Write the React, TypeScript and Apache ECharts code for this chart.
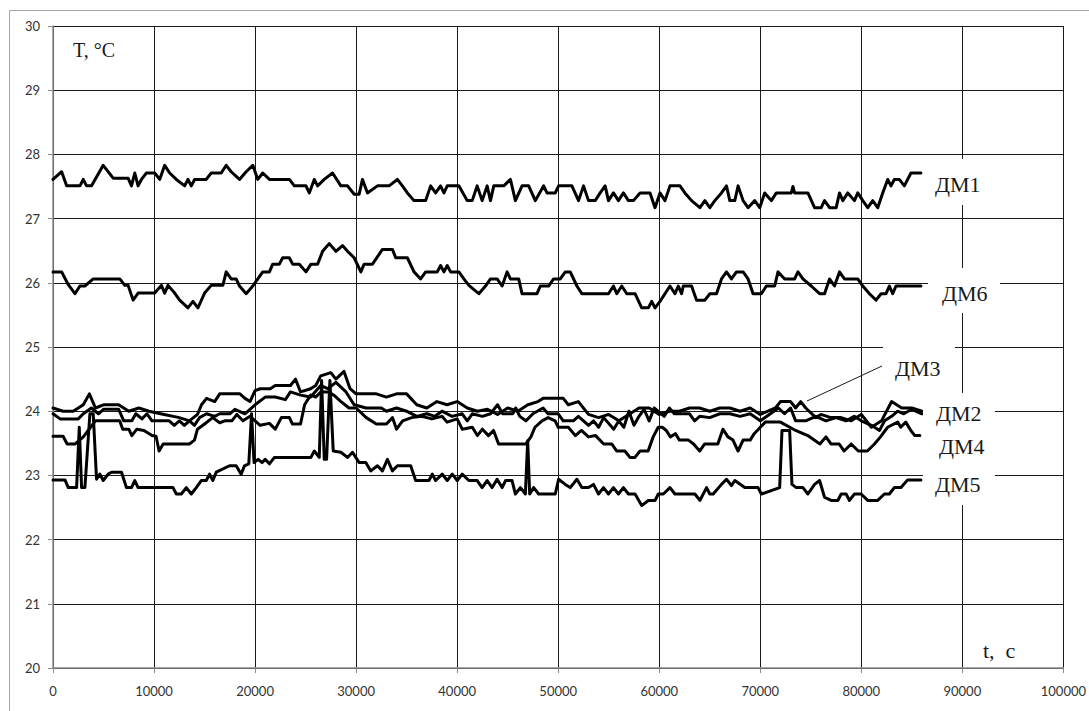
import React, { useEffect, useRef } from "react";
import * as echarts from "echarts";

// Time (s) and temperature (°C) pairs
const dm1: [number, number][] = [
  [0, 27.61], [855, 27.73], [1349, 27.51], [2665, 27.51], [2994, 27.61], [3323, 27.51], [3817, 27.51], [4968, 27.83],
  [5955, 27.63], [7436, 27.63], [7765, 27.51], [8094, 27.71], [8423, 27.51], [8751, 27.61], [9245, 27.71], [10068, 27.71],
  [10561, 27.61], [11055, 27.83], [11548, 27.71], [12206, 27.61], [13029, 27.51], [13358, 27.61], [13687, 27.51], [14016, 27.61],
  [15167, 27.61], [15661, 27.71], [16648, 27.71], [17141, 27.83], [17635, 27.73], [18457, 27.61], [19115, 27.73], [19773, 27.83],
  [20267, 27.61], [20760, 27.71], [21418, 27.61], [23392, 27.61], [23886, 27.51], [25037, 27.51], [25366, 27.40], [25860, 27.61],
  [26189, 27.51], [26847, 27.61], [27669, 27.71], [28492, 27.51], [29150, 27.51], [29808, 27.38], [30301, 27.38], [30630, 27.61],
  [31124, 27.40], [32111, 27.51], [33262, 27.51], [34085, 27.61], [34578, 27.51], [35072, 27.40], [35730, 27.28], [36881, 27.28],
  [37375, 27.51], [37868, 27.40], [38362, 27.51], [38691, 27.40], [39020, 27.51], [40171, 27.51], [40994, 27.28], [41487, 27.28],
  [41981, 27.51], [42474, 27.28], [42968, 27.51], [43297, 27.28], [43626, 27.51], [44613, 27.51], [45271, 27.61], [45764, 27.28],
  [46422, 27.51], [47080, 27.51], [47738, 27.28], [48561, 27.51], [48890, 27.40], [49712, 27.40], [50041, 27.51], [51357, 27.51],
  [52015, 27.28], [52509, 27.51], [53002, 27.28], [53660, 27.28], [54154, 27.40], [54647, 27.51], [54976, 27.28], [55470, 27.40],
  [55963, 27.28], [56457, 27.40], [56950, 27.28], [57444, 27.28], [58102, 27.40], [59089, 27.40], [59582, 27.17], [60076, 27.40],
  [60569, 27.28], [61063, 27.51], [62050, 27.51], [62543, 27.40], [63201, 27.28], [64024, 27.17], [64517, 27.28], [65011, 27.17],
  [65504, 27.28], [66162, 27.40], [66656, 27.51], [66985, 27.28], [67478, 27.28], [67807, 27.51], [68301, 27.28], [68794, 27.17],
  [69452, 27.28], [69946, 27.17], [70439, 27.40], [71097, 27.28], [71591, 27.40], [73071, 27.40], [73236, 27.50], [73400, 27.40],
  [74716, 27.40], [75374, 27.17], [76032, 27.17], [76361, 27.28], [76855, 27.17], [77513, 27.17], [77842, 27.40], [78171, 27.28],
  [78664, 27.40], [79322, 27.28], [79651, 27.40], [80145, 27.28], [80638, 27.17], [81132, 27.28], [81625, 27.17], [82119, 27.40],
  [82612, 27.61], [82941, 27.51], [83270, 27.61], [83764, 27.61], [84257, 27.51], [84915, 27.71], [85902, 27.71],
];

const dm6: [number, number][] = [
  [0, 26.17], [855, 26.17], [1514, 25.97], [2172, 25.83], [2665, 25.95], [3159, 25.95], [3981, 26.06], [6613, 26.06],
  [7107, 25.96], [7436, 25.96], [7929, 25.73], [8423, 25.84], [10068, 25.84], [10726, 25.96], [11055, 25.84], [11384, 25.96],
  [12042, 25.84], [12535, 25.73], [13358, 25.61], [13851, 25.71], [14345, 25.61], [15003, 25.84], [15661, 25.96], [16812, 25.96],
  [17141, 26.17], [17635, 26.06], [18128, 26.06], [18457, 25.95], [19115, 25.83], [19773, 25.95], [20267, 26.06], [20760, 26.17],
  [21418, 26.17], [21747, 26.29], [22405, 26.29], [22734, 26.39], [23392, 26.39], [23721, 26.29], [24379, 26.29], [25037, 26.17],
  [25531, 26.29], [26189, 26.29], [26682, 26.49], [27340, 26.61], [27998, 26.49], [28656, 26.58], [29150, 26.49], [29808, 26.39],
  [30466, 26.17], [30795, 26.29], [31617, 26.29], [32604, 26.52], [33591, 26.52], [33920, 26.39], [35072, 26.39], [35730, 26.17],
  [36388, 26.06], [36881, 26.17], [38033, 26.17], [38362, 26.27], [38691, 26.17], [39020, 26.27], [39349, 26.17], [40171, 26.17],
  [40665, 26.06], [41158, 25.96], [42145, 25.83], [42803, 25.95], [43297, 26.06], [43955, 26.06], [44448, 25.95], [44942, 26.17],
  [45271, 26.06], [46093, 26.06], [46422, 25.83], [47903, 25.83], [48232, 25.95], [49054, 25.95], [49548, 26.06], [50206, 26.06],
  [50699, 26.17], [51193, 26.17], [51851, 25.95], [52344, 25.83], [54976, 25.83], [55470, 25.95], [55799, 25.83], [56292, 25.95],
  [56786, 25.83], [57608, 25.83], [58266, 25.61], [58924, 25.61], [59253, 25.71], [59582, 25.61], [60076, 25.71], [60569, 25.83],
  [61063, 25.95], [61556, 25.83], [61885, 25.95], [62214, 25.83], [62379, 25.95], [63201, 25.95], [63695, 25.73], [64517, 25.73],
  [65011, 25.83], [65669, 25.83], [66162, 26.06], [66656, 26.17], [67149, 26.06], [67643, 26.17], [68301, 26.17], [68794, 26.06],
  [69288, 25.83], [70110, 25.83], [70604, 25.95], [71426, 25.95], [71755, 26.17], [72413, 26.06], [73400, 26.06], [73729, 26.17],
  [74223, 26.06], [75045, 25.95], [75868, 25.83], [76361, 25.83], [76855, 26.06], [77348, 25.95], [77842, 26.17], [78335, 26.06],
  [79651, 26.06], [80145, 25.95], [80803, 25.83], [81461, 25.73], [81954, 25.83], [82448, 25.83], [82777, 25.95], [83106, 25.83],
  [83435, 25.95], [85902, 25.95],
];

const dm3: [number, number][] = [
  [0, 24.05], [1000, 24.0], [2000, 24.0], [3000, 24.1], [3600, 24.27], [4200, 24.05], [5000, 24.1], [6500, 24.1],
  [7500, 24.0], [8500, 24.05], [9500, 24.0], [11000, 23.95], [12500, 23.9], [13500, 23.85], [14300, 23.95], [14700, 24.1],
  [15200, 24.2], [16000, 24.15], [16500, 24.27], [18500, 24.27], [19000, 24.2], [19500, 24.15], [20000, 24.32], [20500, 24.35],
  [21500, 24.35], [22000, 24.4], [23500, 24.4], [24000, 24.5], [24500, 24.3], [25500, 24.35], [26000, 24.4], [26500, 24.55],
  [27500, 24.6], [28000, 24.5], [28800, 24.62], [29400, 24.35], [30000, 24.27], [32000, 24.27], [33000, 24.22], [34000, 24.27],
  [35000, 24.27], [36000, 24.1], [37000, 24.05], [38000, 24.15], [39000, 24.1], [40000, 24.15], [41000, 24.05], [42000, 24.0],
  [43000, 24.03], [44000, 23.95], [45000, 24.05], [46000, 24.0], [47000, 24.1], [48000, 24.15], [48500, 24.2], [50500, 24.2],
  [51000, 24.1], [52000, 24.15], [53000, 23.95], [54000, 23.9], [55000, 23.95], [56000, 23.85], [57000, 23.95], [58000, 24.05],
  [59000, 24.05], [60000, 23.95], [61000, 24.0], [62000, 24.0], [63000, 24.05], [64000, 24.05], [65000, 24.0], [66000, 24.05],
  [67000, 24.05], [68000, 24.0], [69000, 24.05], [70000, 23.95], [71500, 24.05], [72000, 24.15], [73000, 24.15], [73500, 24.05],
  [74000, 24.15], [74500, 24.05], [75500, 23.9], [76000, 23.95], [77000, 23.9], [78000, 23.9], [79000, 23.85], [80000, 23.95],
  [81000, 23.75], [82000, 23.85], [83000, 24.15], [84000, 24.05], [85000, 24.05], [86000, 24.0],
];

const dm2: [number, number][] = [
  [0, 23.96], [700, 23.88], [2500, 23.88], [3000, 23.96], [3800, 24.05], [4500, 23.96], [5000, 24.03], [6500, 24.03],
  [7000, 23.85], [7800, 23.85], [8200, 23.96], [8800, 23.88], [9300, 23.96], [9800, 23.85], [11500, 23.85], [12000, 23.78],
  [12500, 23.85], [13000, 23.78], [13500, 23.85], [14000, 23.78], [14500, 23.9], [15200, 23.96], [16000, 23.92], [16500, 23.96],
  [17500, 23.96], [18000, 24.03], [19000, 23.96], [20000, 24.1], [21000, 24.22], [22000, 24.22], [23000, 24.18], [23500, 24.3],
  [24500, 24.25], [25500, 24.22], [26500, 24.4], [27200, 24.35], [28000, 24.45], [29000, 24.3], [29800, 24.1], [31000, 24.05],
  [32500, 24.05], [33000, 24.0], [34000, 24.05], [35000, 24.0], [36000, 23.92], [37000, 23.96], [37800, 23.92], [38500, 24.0],
  [39500, 23.92], [40500, 23.96], [41000, 23.85], [41500, 23.96], [42500, 23.92], [43300, 23.96], [44000, 24.1], [44500, 23.96],
  [45500, 23.96], [45800, 24.05], [46200, 23.92], [46800, 23.85], [47500, 23.96], [48500, 24.05], [49000, 23.96], [50000, 23.96],
  [50500, 23.85], [51500, 23.85], [52000, 23.92], [52500, 23.85], [53000, 23.78], [53500, 23.85], [54000, 23.75], [54500, 23.9],
  [55500, 23.72], [56000, 23.85], [56500, 23.75], [57000, 24.0], [57500, 23.78], [58000, 23.92], [58500, 24.03], [59000, 23.85],
  [59500, 24.05], [60500, 23.92], [61000, 24.05], [61500, 23.96], [63000, 23.96], [63500, 23.85], [64000, 23.92], [65000, 23.9],
  [66000, 23.96], [67000, 23.96], [68000, 23.92], [69000, 23.96], [70000, 23.85], [71000, 23.96], [71800, 24.05], [72400, 23.96],
  [73000, 24.05], [73500, 23.85], [74500, 23.85], [75500, 23.92], [76500, 23.85], [77500, 23.9], [78500, 23.85], [79300, 23.92],
  [80000, 23.85], [81000, 23.78], [81800, 23.7], [82300, 23.85], [83000, 23.92], [83600, 24.0], [84200, 23.96], [85000, 24.03],
  [86000, 23.96],
];

const dm4: [number, number][] = [
  [0, 23.61], [1000, 23.61], [1400, 23.49], [2200, 23.49], [3000, 23.6], [4200, 23.85], [6600, 23.85], [6900, 23.72],
  [7500, 23.72], [7800, 23.62], [8300, 23.72], [9000, 23.7], [9800, 23.62], [10200, 23.61], [10500, 23.38], [10900, 23.49],
  [13500, 23.49], [14000, 23.55], [14300, 23.72], [15000, 23.8], [15800, 23.9], [16500, 23.82], [17000, 23.85], [17700, 23.85],
  [18200, 23.95], [18800, 23.85], [19500, 23.92], [20000, 23.85], [20500, 23.78], [21418, 23.81], [22000, 23.72], [22600, 23.9],
  [23400, 23.9], [23700, 23.8], [24500, 23.8], [24900, 24.1], [25500, 24.25], [26000, 24.22], [26500, 24.3], [27300, 24.3],
  [27800, 24.25], [28500, 24.15], [29300, 24.05], [30000, 24.05], [31000, 23.9], [32000, 23.8], [33000, 23.8], [33600, 23.9],
  [34000, 23.72], [34600, 23.85], [35500, 23.9], [36500, 23.92], [37500, 23.88], [38500, 23.92], [39000, 23.83], [40000, 23.88],
  [40500, 23.72], [41500, 23.75], [42000, 23.62], [42500, 23.72], [43100, 23.62], [43600, 23.7], [44100, 23.49], [46800, 23.49],
  [47300, 23.6], [47700, 23.75], [48400, 23.85], [49000, 23.9], [49700, 23.85], [50000, 23.75], [51000, 23.75], [51700, 23.62],
  [52300, 23.7], [53000, 23.6], [53700, 23.62], [54500, 23.49], [55300, 23.49], [55800, 23.38], [56600, 23.38], [57100, 23.28],
  [57600, 23.28], [58100, 23.38], [58900, 23.38], [59400, 23.6], [59900, 23.75], [60300, 23.75], [60700, 23.7], [61100, 23.6],
  [61600, 23.65], [62000, 23.55], [62900, 23.55], [63400, 23.49], [64000, 23.38], [64500, 23.49], [65800, 23.49], [66300, 23.72],
  [66800, 23.6], [67300, 23.55], [67800, 23.38], [68300, 23.55], [69000, 23.55], [69400, 23.65], [70000, 23.75], [70500, 23.83],
  [72000, 23.83], [73500, 23.7], [74700, 23.62], [75900, 23.49], [76500, 23.6], [77000, 23.49], [77800, 23.49], [78300, 23.38],
  [79000, 23.49], [79700, 23.38], [80600, 23.38], [81300, 23.49], [81900, 23.6], [82600, 23.75], [83600, 23.83], [83900, 23.75],
  [84400, 23.83], [84900, 23.7], [85300, 23.62], [85800, 23.62],
];

const dm5: [number, number][] = [
  [0, 22.93], [1185, 22.93], [1514, 22.81], [2336, 22.81], [2599, 23.75], [2830, 22.81], [3158, 22.81], [3652, 23.96],
  [3981, 23.96], [4310, 22.94], [4639, 23.02], [4968, 22.92], [5462, 23.02], [5790, 23.05], [6778, 23.05], [7271, 22.81],
  [7765, 22.81], [8094, 22.92], [8423, 22.81], [11877, 22.81], [12206, 22.71], [12700, 22.71], [13193, 22.81], [13687, 22.71],
  [14181, 22.81], [14674, 22.92], [15167, 22.92], [15496, 23.02], [15825, 22.92], [16154, 23.05], [17470, 23.15], [18128, 23.15],
  [18622, 23.02], [18951, 23.15], [19378, 23.18], [19650, 23.96], [19900, 23.2], [20300, 23.25], [20700, 23.2], [21000, 23.25],
  [21418, 23.18], [21912, 23.28], [25530, 23.28], [25860, 23.38], [26353, 23.28], [26584, 24.48], [26847, 23.25], [27077, 23.25],
  [27406, 24.48], [27735, 23.38], [28492, 23.36], [29150, 23.28], [29643, 23.36], [30301, 23.2], [30959, 23.2], [31453, 23.07],
  [32111, 23.15], [32604, 23.07], [33098, 23.25], [33591, 23.07], [34085, 23.15], [35401, 23.15], [35894, 22.92], [37210, 22.92],
  [37539, 23.02], [37868, 22.92], [38526, 23.02], [39020, 22.92], [39513, 23.02], [40007, 22.92], [40500, 23.02], [41158, 22.92],
  [41981, 22.92], [42474, 22.81], [42968, 22.92], [43462, 22.81], [43955, 22.94], [44448, 22.81], [44800, 22.92], [45435, 22.92],
  [45764, 22.71], [46258, 22.81], [46751, 22.71], [46981, 23.54], [47179, 22.71], [47574, 22.81], [48067, 22.71], [49712, 22.71],
  [50041, 22.94], [50699, 22.86], [51193, 22.81], [51851, 22.94], [52344, 22.81], [53002, 22.81], [53496, 22.86], [53989, 22.71],
  [54483, 22.81], [54976, 22.71], [55470, 22.81], [55963, 22.71], [56457, 22.81], [56950, 22.71], [57608, 22.71], [58266, 22.53],
  [58924, 22.61], [59582, 22.61], [59911, 22.71], [60405, 22.71], [61063, 22.81], [61556, 22.71], [63530, 22.71], [64024, 22.61],
  [64682, 22.81], [65000, 22.71], [65340, 22.71], [66162, 22.86], [66656, 22.94], [67149, 22.84], [67478, 22.92], [68465, 22.81],
  [69781, 22.81], [70110, 22.71], [71920, 22.81], [72150, 23.7], [72907, 23.7], [73137, 22.86], [73565, 22.81], [74222, 22.81],
  [74716, 22.71], [75374, 22.86], [75868, 22.92], [76361, 22.66], [77019, 22.61], [77677, 22.61], [78006, 22.71], [78500, 22.71],
  [78829, 22.61], [79322, 22.71], [79980, 22.71], [80638, 22.61], [81625, 22.61], [82283, 22.71], [82777, 22.71], [83270, 22.81],
  [83928, 22.81], [84586, 22.93], [85900, 22.93],
];

const seriesNames = ["ДМ1", "ДМ6", "ДМ3", "ДМ2", "ДМ4", "ДМ5"];
const seriesData = [dm1, dm6, dm3, dm2, dm4, dm5];

const xMin = 0;
const xMax = 100000;
const xStep = 10000;
const yMin = 20;
const yMax = 30;
const yStep = 1;

const yAxisTitle = "T, °C";
const xAxisTitle = "t,  с";

export default function App() {
  const ref = useRef<HTMLDivElement>(null);

  useEffect(() => {
    if (!ref.current) return;
    const chart = echarts.init(ref.current, undefined, { renderer: "svg" });
    const serif = "'Liberation Serif', 'DejaVu Serif', serif";
    const labelStyle = { fontFamily: serif, fontSize: 22, fill: "#1a1a1a" };

    const boxes = [
      { x: 923, y: 159, w: 75, h: 46, tx: 935, ty: 184, name: seriesNames[0] },
      { x: 928, y: 268, w: 72, h: 45, tx: 942, ty: 293, name: seriesNames[1] },
      { x: 883, y: 344, w: 72, h: 46, tx: 895, ty: 368, name: seriesNames[2] },
      { x: 923, y: 393, w: 72, h: 35, tx: 936, ty: 413, name: seriesNames[3] },
      { x: 925, y: 428, w: 70, h: 34, tx: 939, ty: 446, name: seriesNames[4] },
      { x: 923, y: 462, w: 72, h: 43, tx: 935, ty: 484, name: seriesNames[5] },
    ];

    const graphics: any[] = [
      {
        type: "rect",
        z: 100,
        shape: { x: 9.5, y: 10.5, width: 1200, height: 900 },
        style: { fill: "none", stroke: "#a6a6a6", lineWidth: 1 },
        silent: true,
      },
      {
        type: "text",
        z: 101,
        left: 73,
        top: 40,
        style: { text: yAxisTitle, fontFamily: serif, fontSize: 20, fill: "#1a1a1a" },
      },
      {
        type: "text",
        z: 101,
        left: 983,
        top: 639,
        style: { text: xAxisTitle, fontFamily: serif, fontSize: 22, fill: "#1a1a1a" },
      },
    ];
    boxes.forEach((b) => {
      graphics.push({
        type: "rect",
        z: 100,
        shape: { x: b.x, y: b.y, width: b.w, height: b.h },
        style: { fill: "#ffffff", stroke: "none" },
        silent: true,
      });
      graphics.push({
        type: "text",
        z: 101,
        x: b.tx,
        y: b.ty,
        style: { ...labelStyle, text: b.name, textVerticalAlign: "middle", verticalAlign: "middle" },
      });
    });
    graphics.push({
      type: "line",
      z: 101,
      shape: { x1: 882, y1: 366, x2: 807, y2: 401 },
      style: { stroke: "#1a1a1a", lineWidth: 1 },
    });

    const tickFont = "Lato, 'Open Sans', sans-serif";

    chart.setOption({
      animation: false,
      backgroundColor: "#ffffff",
      grid: { left: 53, right: 23, top: 26, bottom: 43, containLabel: false },
      xAxis: {
        type: "value",
        min: xMin,
        max: xMax,
        interval: xStep,
        axisLine: { show: true, onZero: false, lineStyle: { color: "#8c8c8c", width: 1.5 } },
        axisTick: { show: true, length: 5, lineStyle: { color: "#8c8c8c" } },
        axisLabel: {
          margin: 16,
          fontFamily: tickFont,
          fontSize: 13,
          color: "#333333",
          formatter: (v: number) => String(v),
        },
        splitLine: { show: true, lineStyle: { color: "#1a1a1a", width: 1 } },
      },
      yAxis: {
        type: "value",
        min: yMin,
        max: yMax,
        interval: yStep,
        axisLine: { show: true, onZero: false, lineStyle: { color: "#8c8c8c", width: 1.5 } },
        axisTick: { show: true, length: 5, lineStyle: { color: "#8c8c8c" } },
        axisLabel: {
          margin: 13,
          fontFamily: tickFont,
          fontSize: 13,
          color: "#333333",
          formatter: (v: number) => String(v),
        },
        splitLine: { show: true, lineStyle: { color: "#1a1a1a", width: 1 } },
      },
      series: seriesData.map((d, i) => ({
        name: seriesNames[i],
        type: "line",
        data: d,
        showSymbol: false,
        symbol: "none",
        lineStyle: { color: "#000000", width: 3, join: "round", cap: "round" },
        z: 3,
      })),
      graphic: graphics,
    });

    return () => chart.dispose();
  }, []);

  return (
    <div
      ref={ref}
      style={{ position: "fixed", left: 0, top: 0, width: 1089, height: 711, background: "#fff" }}
    />
  );
}
